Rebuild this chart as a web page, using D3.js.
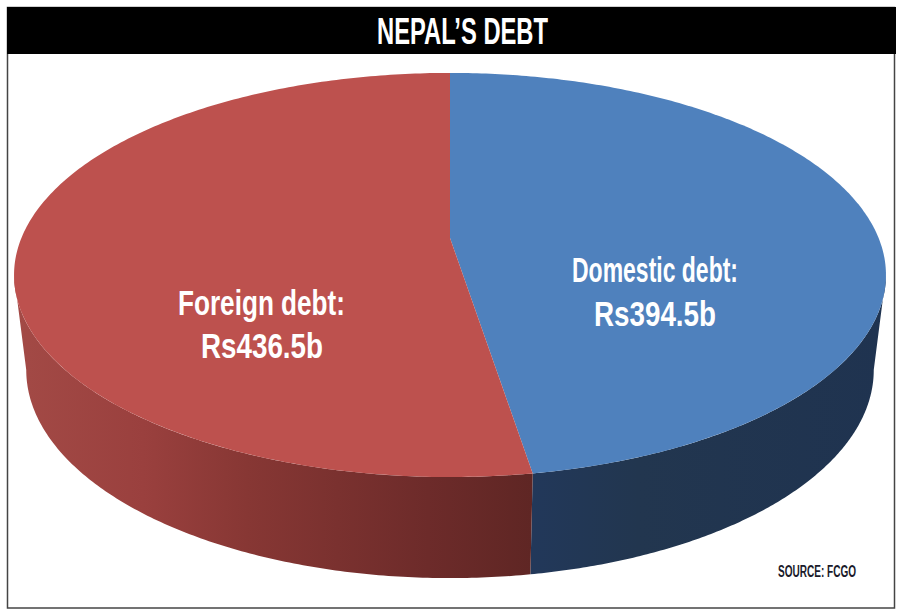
<!DOCTYPE html>
<html><head><meta charset="utf-8">
<script src="https://cdn.jsdelivr.net/npm/d3@7"></script>
<style>html,body{margin:0;padding:0;background:#fff}svg{display:block}text{font-family:"Liberation Sans Narrow","Liberation Sans",sans-serif}</style>
</head><body><svg id="c" width="900" height="615"></svg>
<script>
const categories = ["Domestic debt:", "Foreign debt:"];
const values = [394.5, 436.5];
const valueLabels = ["Rs394.5b", "Rs436.5b"];
const topColors = ["#4f81bd", "#bd514e"];
const title = "NEPAL’S DEBT";
const source = "SOURCE: FCGO";

const svg = d3.select("#c");
const defs = svg.append("defs");

// frame
svg.append("rect").attr("x",7.5).attr("y",7.5).attr("width",887).attr("height",600.5)
  .attr("fill","#fff").attr("stroke","#444").attr("stroke-width",1.5);
svg.append("rect").attr("x",7).attr("y",7).attr("width",889).attr("height",47).attr("fill","#000");
function fitted(sel,x0,x1){const n=sel.node();n.setAttribute("textLength",x1-x0);n.setAttribute("lengthAdjust","spacingAndGlyphs");return sel;}
fitted(svg.append("text").attr("x",377).attr("y",44).attr("font-size",37).attr("font-weight",700).attr("fill","#fff").text(title),377,548);

// pie angles
const arcs = d3.pie().sort(null).value(d=>d)(values);

// perspective projection of the circular disc
const cx=450, cy0=238, A=428.6, B=195.3, k=0.183;
const project = a => { const u=Math.sin(a), v=-Math.cos(a), w=1-k*v; return [cx+A*u/w, cy0+B*v/w]; };
const baseXScale=0.972, baseYScale=1.03, baseCy=370, topCy=275;
const projectBase = a => { const p=project(a); return [cx+(p[0]-cx)*baseXScale, baseCy+(p[1]-topCy)*baseYScale]; };
const line=d3.line();
const samples=(a0,a1,n=160)=>d3.range(n+1).map(i=>a0+(a1-a0)*i/n);

// visible front range of the side wall: from the widest point on each side
const widest=Math.acos(-k);
const sideRange=[[widest,arcs[0].endAngle],[arcs[1].startAngle,2*Math.PI-widest]];
const sideStops=[
 [["0","#22385a"],["0.3","#22364f"],["1","#1f3350"]],
 [["0","#5f2624"],["0.2","#6d2b2a"],["0.55","#873734"],["0.75","#9a403e"],["1","#a34a46"]]
];
const sideX=[[532,886],[532,14]];
[0,1].forEach(i=>{
  const g=defs.append("linearGradient").attr("id","s"+i).attr("gradientUnits","userSpaceOnUse")
    .attr("x1",sideX[i][0]).attr("x2",sideX[i][1]).attr("y1",0).attr("y2",0);
  sideStops[i].forEach(s=>g.append("stop").attr("offset",s[0]).attr("stop-color",s[1]));
  const [a0,a1]=sideRange[i];
  const pts=samples(a0,a1).map(project).concat(samples(a0,a1).reverse().map(projectBase));
  svg.append("path").attr("d",line(pts)+"Z").attr("fill",`url(#s${i})`);
});

// top face
arcs.forEach(d=>{
  const pts=[[cx,cy0]].concat(samples(d.startAngle,d.endAngle,240).map(project));
  svg.append("path").attr("d",line(pts)+"Z").attr("fill",topColors[d.index]);
});

// labels
const labelPos=[
 {x:[572,738],y:282,vx:[594,716],vy:326},
 {x:[178,345],y:315,vx:[201,323],vy:358}
];
categories.forEach((c,i)=>{
  const p=labelPos[i];
  fitted(svg.append("text").attr("x",p.x[0]).attr("y",p.y).attr("font-size",35).attr("font-weight",700).attr("fill","#fff").text(c),p.x[0],p.x[1]);
  fitted(svg.append("text").attr("x",p.vx[0]).attr("y",p.vy).attr("font-size",35).attr("font-weight",700).attr("fill","#fff").text(valueLabels[i]),p.vx[0],p.vx[1]);
});
fitted(svg.append("text").attr("x",778).attr("y",577).attr("font-size",16).attr("font-weight",700).attr("fill","#1a1a2a").text(source),778,856);
</script></body></html>
